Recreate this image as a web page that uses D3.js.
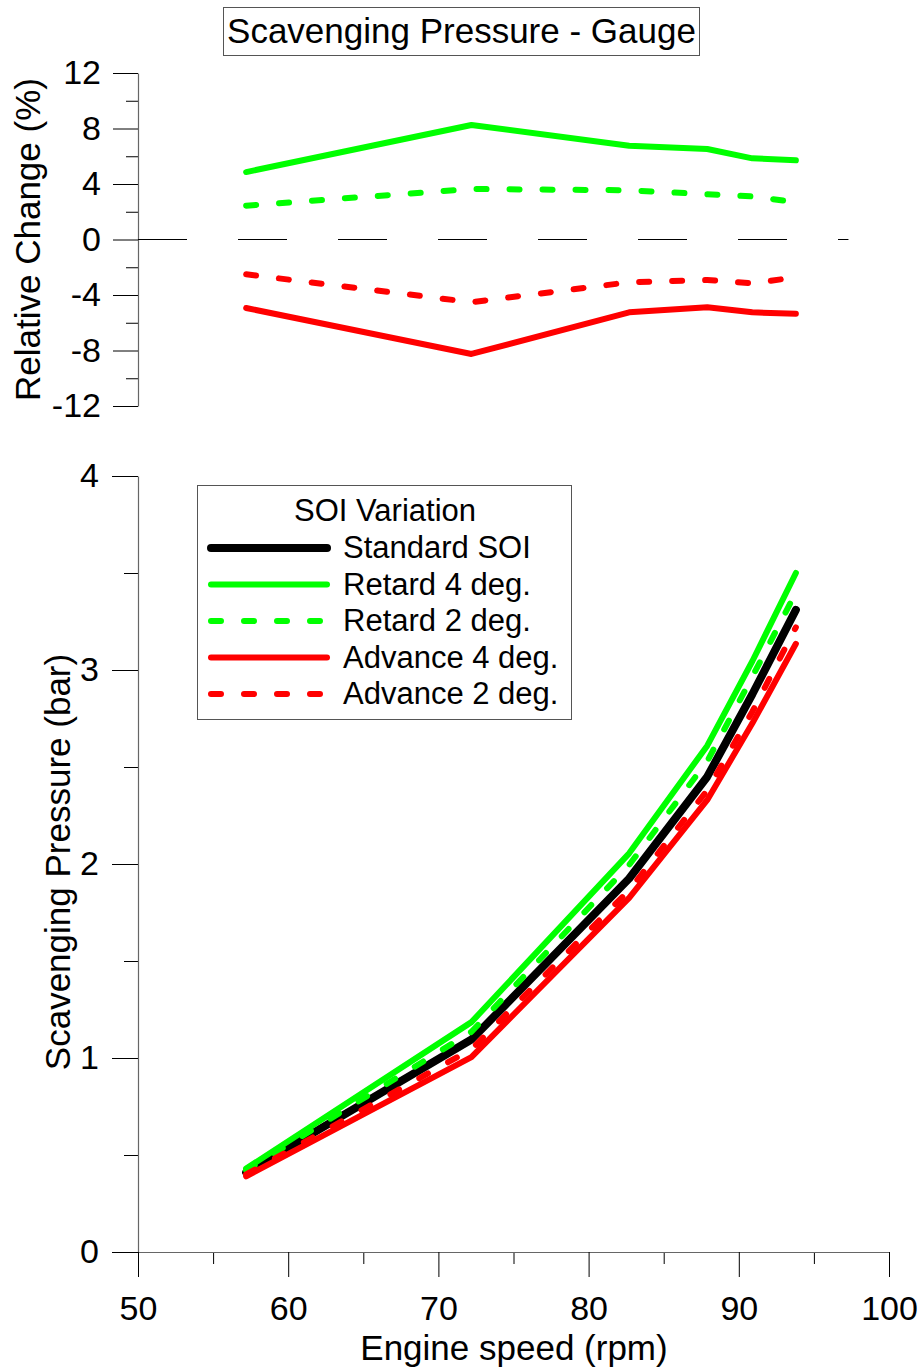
<!DOCTYPE html>
<html>
<head>
<meta charset="utf-8">
<script src="https://cdn.jsdelivr.net/npm/d3@7"></script>
<style>
  html, body { margin: 0; padding: 0; background: #fff; }
  svg { display: block; font-family: "Liberation Sans", Arial, sans-serif; }
</style>
</head>
<body>
<svg id="chart" width="924" height="1370"></svg>
<script>
// Engine speed (rpm) at the measured operating points
const engineSpeed = [57.2, 72.2, 82.7, 87.9, 90.9, 93.8];

// Scavenging pressure, gauge (bar)
const standardSOI = [0.41, 1.095, 1.925, 2.45, 2.875, 3.31];
const retard4 = [0.43, 1.185, 2.055, 2.61, 3.045, 3.50];
const retard2 = [0.42, 1.135, 1.995, 2.53, 2.965, 3.40];
const advance4 = [0.39, 1.005, 1.825, 2.33, 2.725, 3.135];
const advance2 = [0.40, 1.045, 1.865, 2.38, 2.785, 3.22];

// Relative change against the standard SOI (%)
const relRetard4 = [4.86, 8.25, 6.76, 6.52, 5.85, 5.71];
const relRetard2 = [2.44, 3.64, 3.55, 3.26, 3.11, 2.68];
const relAdvance4 = [-4.94, -8.25, -5.25, -4.89, -5.25, -5.35];
const relAdvance2 = [-2.51, -4.52, -3.08, -2.92, -3.16, -2.72];

// Reference zero line extent (rpm)
const zeroLineSpan = [50, 97.3];

// Axis ticks
const speedTicks = [50, 60, 70, 80, 90, 100];
const speedMinor = [55, 65, 75, 85, 95];
const relTicks = [-12, -8, -4, 0, 4, 8, 12];
const relMinor = [-10, -6, -2, 2, 6, 10];
const presTicks = [0, 1, 2, 3, 4];
const presMinor = [0.5, 1.5, 2.5, 3.5];

const chartTitle = "Scavenging Pressure - Gauge";
const legendTitle = "SOI Variation";

const series = [
  { name: "Standard SOI", values: standardSOI, rel: null, color: "#000000", width: 8, dash: null },
  { name: "Retard 4 deg.", values: retard4, rel: relRetard4, color: "#00ff00", width: 6, dash: null },
  { name: "Retard 2 deg.", values: retard2, rel: relRetard2, color: "#00ff00", width: 6, dash: "10,23" },
  { name: "Advance 4 deg.", values: advance4, rel: relAdvance4, color: "#ff0000", width: 6, dash: null },
  { name: "Advance 2 deg.", values: advance2, rel: relAdvance2, color: "#ff0000", width: 6, dash: "10,23" }
];

const svg = d3.select("#chart");

const x = d3.scaleLinear().domain([50, 100]).range([138, 889]);
const yTop = d3.scaleLinear().domain([-12, 12]).range([406, 73]);
const yBot = d3.scaleLinear().domain([0, 4]).range([1252, 476]);

const fmt = d => String(d);
const axisColor = "#666";
const tickFont = 34;

function styleAxis(g) {
  g.select(".domain").attr("stroke", axisColor).attr("stroke-width", 1.2);
  g.selectAll(".tick line").attr("stroke", "#000").attr("stroke-width", 1);
  g.selectAll(".tick text").attr("fill", "#000").attr("font-size", tickFont)
    .attr("font-family", "'Liberation Sans', Arial, sans-serif");
}

// ---------- Title box ----------
const titleG = svg.append("g");
titleG.append("rect").attr("x", 223.5).attr("y", 7.5).attr("width", 476).attr("height", 48)
  .attr("fill", "#fff").attr("stroke", "#555").attr("stroke-width", 1);
titleG.append("text").attr("x", 461.5).attr("y", 43).attr("text-anchor", "middle")
  .attr("font-size", 35).attr("fill", "#000").text(chartTitle);

// ---------- Top panel: relative change ----------
const topMinor = svg.append("g").attr("transform", "translate(138,0)")
  .call(d3.axisLeft(yTop).tickValues(relMinor).tickSize(12).tickSizeOuter(0).tickFormat(""));
topMinor.select(".domain").remove();
topMinor.selectAll(".tick line").attr("stroke", "#000");

const topAxis = svg.append("g").attr("transform", "translate(138,0)")
  .call(d3.axisLeft(yTop).tickValues(relTicks).tickSize(25).tickSizeOuter(0).tickPadding(12).tickFormat(fmt));
styleAxis(topAxis);

// dashed zero reference
svg.append("line")
  .attr("x1", x(zeroLineSpan[0])).attr("x2", x(zeroLineSpan[1]))
  .attr("y1", yTop(0)).attr("y2", yTop(0))
  .attr("stroke", "#000").attr("stroke-width", 1.2)
  .attr("stroke-dasharray", "49,51");

const lineTop = d3.line().x((d, i) => x(engineSpeed[i])).y(d => yTop(d));
svg.append("g").selectAll("path").data(series.filter(s => s.rel)).join("path")
  .attr("d", s => lineTop(s.rel))
  .attr("fill", "none")
  .attr("stroke", s => s.color)
  .attr("stroke-width", s => s.width)
  .attr("stroke-linecap", "round")
  .attr("stroke-linejoin", "round")
  .attr("stroke-dasharray", s => s.dash);

svg.append("text")
  .attr("transform", `translate(40,${(73 + 406) / 2}) rotate(-90)`)
  .attr("text-anchor", "middle").attr("font-size", 35).attr("fill", "#000")
  .text("Relative Change (%)");

// ---------- Bottom panel: scavenging pressure ----------
const botMinorY = svg.append("g").attr("transform", "translate(138,0)")
  .call(d3.axisLeft(yBot).tickValues(presMinor).tickSize(14).tickSizeOuter(0).tickFormat(""));
botMinorY.select(".domain").remove();
botMinorY.selectAll(".tick line").attr("stroke", "#000");

const botMinorX = svg.append("g").attr("transform", "translate(0,1252)")
  .call(d3.axisBottom(x).tickValues(speedMinor).tickSize(12).tickSizeOuter(0).tickFormat(""));
botMinorX.select(".domain").remove();
botMinorX.selectAll(".tick line").attr("stroke", "#000");

const botY = svg.append("g").attr("transform", "translate(138,0)")
  .call(d3.axisLeft(yBot).tickValues(presTicks).tickSize(26).tickSizeOuter(0).tickPadding(13).tickFormat(fmt));
styleAxis(botY);

const botX = svg.append("g").attr("transform", "translate(0,1252)")
  .call(d3.axisBottom(x).tickValues(speedTicks).tickSize(25).tickSizeOuter(0).tickPadding(19).tickFormat(fmt));
styleAxis(botX);

const lineBot = d3.line().x((d, i) => x(engineSpeed[i])).y(d => yBot(d));
svg.append("g").selectAll("path").data(series).join("path")
  .attr("d", s => lineBot(s.values))
  .attr("fill", "none")
  .attr("stroke", s => s.color)
  .attr("stroke-width", s => s.width)
  .attr("stroke-linecap", "round")
  .attr("stroke-linejoin", "round")
  .attr("stroke-dasharray", s => s.dash);

svg.append("text")
  .attr("transform", `translate(70,${(476 + 1252) / 2 - 2}) rotate(-90)`)
  .attr("text-anchor", "middle").attr("font-size", 35).attr("fill", "#000")
  .text("Scavenging Pressure (bar)");

svg.append("text")
  .attr("x", 514).attr("y", 1360)
  .attr("text-anchor", "middle").attr("font-size", 35).attr("fill", "#000")
  .text("Engine speed (rpm)");

// ---------- Legend ----------
const legend = svg.append("g");
legend.append("rect").attr("x", 197.5).attr("y", 485.5).attr("width", 374).attr("height", 234)
  .attr("fill", "#fff").attr("stroke", "#555").attr("stroke-width", 1);
legend.append("text").attr("x", 385).attr("y", 521).attr("text-anchor", "middle")
  .attr("font-size", 31).attr("fill", "#000").text(legendTitle);

const rowY = d3.scalePoint().domain(series.map(s => s.name)).range([548, 694]);
const rows = legend.selectAll("g.row").data(series).join("g").attr("class", "row")
  .attr("transform", s => `translate(0,${rowY(s.name)})`);
rows.append("line")
  .attr("x1", 211).attr("x2", 327).attr("y1", 0).attr("y2", 0)
  .attr("stroke", s => s.color)
  .attr("stroke-width", s => s.width)
  .attr("stroke-linecap", "round")
  .attr("stroke-dasharray", s => s.dash);
rows.append("text").attr("x", 343).attr("y", 10)
  .attr("font-size", 31).attr("fill", "#000").text(s => s.name);
</script>
</body>
</html>
